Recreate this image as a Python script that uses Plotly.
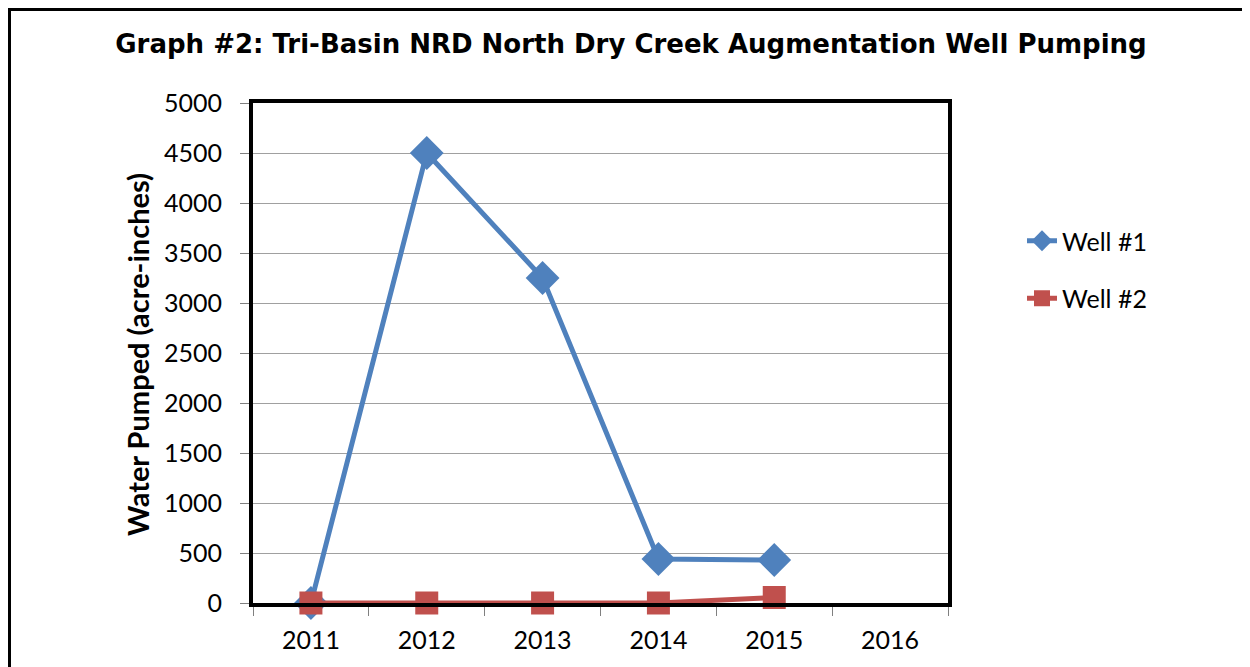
import plotly.graph_objects as go

years = ["2011", "2012", "2013", "2014", "2015", "2016"]
well1_years = ["2011", "2012", "2013", "2014", "2015"]
well1_values = [0, 4500, 3250, 440, 430]
well2_years = ["2011", "2012", "2013", "2014", "2015"]
well2_values = [0, 0, 0, 0, 55]
y_ticks = [0, 500, 1000, 1500, 2000, 2500, 3000, 3500, 4000, 4500, 5000]

BLUE = "#4F81BD"
RED = "#C0504D"

OFF = 8  # page body margin
L, R, T, B = 253 - OFF, 1250 - (948 - OFF), 103 - OFF, 667 - (603 - OFF)
W, H = 1250, 667
pw, ph = W - L - R, H - T - B

def px_x(px):
    return (px - OFF - L) / pw

def px_y(py):
    return (H - B - (py - OFF)) / ph

fig = go.Figure()
fig.add_trace(go.Scatter(
    x=well1_years, y=well1_values, name="Well #1", mode="lines+markers",
    legendgroup="w1",
    line=dict(color=BLUE, width=5),
    marker=dict(symbol="diamond", size=26, color=BLUE),
    cliponaxis=False,
))
fig.add_trace(go.Scatter(
    x=well2_years, y=well2_values, name="Well #2", mode="lines+markers",
    legendgroup="w2",
    line=dict(color=RED, width=5),
    marker=dict(symbol="square", size=23, color=RED),
    cliponaxis=False,
))

fig.update_layout(
    width=W, height=H,
    margin=dict(l=L, r=R, t=T, b=B),
    paper_bgcolor="white", plot_bgcolor="white",
    title=dict(
        text="<b>Graph #2: Tri-Basin NRD North Dry Creek Augmentation Well Pumping</b>",
        x=(631 - OFF) / W, xanchor="center", y=1 - (44 - OFF) / H, yanchor="middle",
        font=dict(family="DejaVu Sans", size=26, color="black"),
    ),
    font=dict(family="Lato", size=25, color="black"),
    showlegend=True,
    legend=dict(
        x=px_x(1022), y=px_y(218), xanchor="left", yanchor="top",
        font=dict(family="Lato", size=25, color="black"),
        bgcolor="rgba(0,0,0,0)", tracegroupgap=22, traceorder="grouped",
    ),
    shapes=[
        dict(type="line", xref="paper", yref="paper",
             x0=(1.5 - L) / pw, x1=(1.5 - L) / pw, y0=(H - B - H) / ph, y1=(H - B - 1.5) / ph,
             line=dict(color="black", width=3)),
        dict(type="line", xref="paper", yref="paper",
             x0=(0 - L) / pw, x1=(W - L) / pw, y0=(H - B - 1.5) / ph, y1=(H - B - 1.5) / ph,
             line=dict(color="black", width=3)),
    ],
    annotations=[dict(
        text="<b>Water Pumped (acre-inches)</b>", xref="paper", yref="paper",
        x=px_x(137), y=px_y(355), xanchor="center", yanchor="middle",
        textangle=-90, showarrow=False,
        font=dict(family="Lato", size=29, color="black"),
    )],
)

fig.update_xaxes(
    type="category", categoryorder="array", categoryarray=years,
    range=[-0.5, 5.5], tickson="boundaries",
    ticks="outside", ticklen=9, tickcolor="#808080", tickwidth=1,
    ticklabelstandoff=12,
    showline=True, linecolor="black", linewidth=4, mirror=True,
    showgrid=False, tickfont=dict(family="Lato", size=25),
)
fig.update_yaxes(
    range=[0, 5000], tickvals=y_ticks,
    ticks="outside", ticklen=9, tickcolor="#808080", tickwidth=1,
    ticklabelstandoff=13,
    showline=True, linecolor="black", linewidth=4, mirror=True,
    showgrid=True, gridcolor="#A0A0A0", gridwidth=1, zeroline=False,
    tickfont=dict(family="Lato", size=25),
)

fig.write_html("out.html")
